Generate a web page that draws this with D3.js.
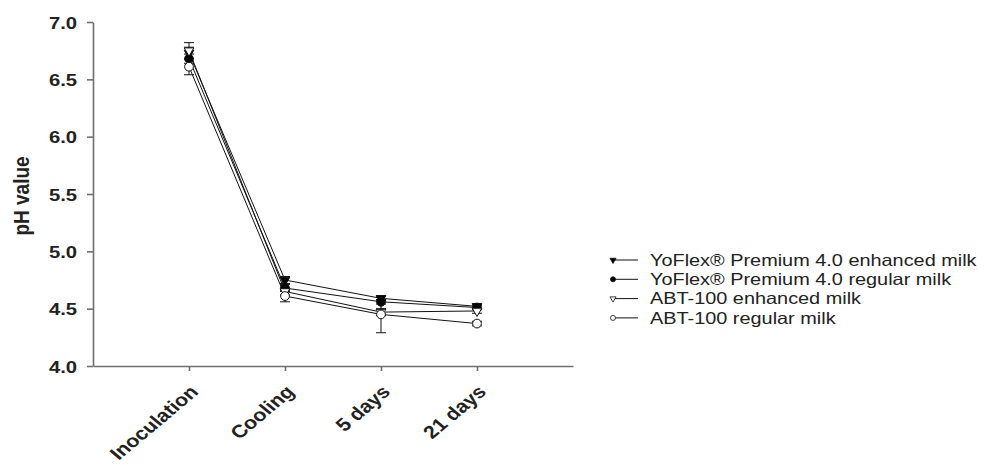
<!DOCTYPE html>
<html>
<head>
<meta charset="utf-8">
<script src="https://cdn.jsdelivr.net/npm/d3@7"></script>
<style>
  body { margin: 0; background: #fff; }
  svg { display: block; }
  text { font-family: "Liberation Sans", Arial, sans-serif; }
</style>
</head>
<body>
<svg id="chart" width="994" height="464"></svg>
<script>
// Sampling stages along the x axis
const stages = ["Inoculation", "Cooling", "5 days", "21 days"];

// Mean pH per stage for each culture/milk combination
const yoflexEnhanced = [6.73, 4.75, 4.59, 4.52];
const yoflexRegular  = [6.68, 4.68, 4.56, 4.51];
const abtEnhanced    = [6.75, 4.65, 4.47, 4.48];
const abtRegular     = [6.61, 4.61, 4.45, 4.37];

// Standard deviations (error bars)
const yoflexEnhancedSd = [0.05, 0.03, 0.02, 0.02];
const yoflexRegularSd  = [0.04, 0.03, 0.02, 0.02];
const abtEnhancedSd    = [0.07, 0.03, 0.03, 0.02];
const abtRegularSd     = [0.07, 0.05, 0.16, 0.02];

const seriesNames = [
  "YoFlex® Premium 4.0 enhanced milk",
  "YoFlex® Premium 4.0 regular milk",
  "ABT-100 enhanced milk",
  "ABT-100 regular milk"
];

const yTicks = [4.0, 4.5, 5.0, 5.5, 6.0, 6.5, 7.0];

const series = [
  { name: seriesNames[0], values: yoflexEnhanced, sd: yoflexEnhancedSd, shape: "tri", fill: "#000" },
  { name: seriesNames[1], values: yoflexRegular,  sd: yoflexRegularSd,  shape: "circle", fill: "#000" },
  { name: seriesNames[2], values: abtEnhanced,    sd: abtEnhancedSd,    shape: "tri", fill: "#fff" },
  { name: seriesNames[3], values: abtRegular,     sd: abtRegularSd,     shape: "circle", fill: "#fff" }
];

const svg = d3.select("#chart");
const plotLeft = 93, plotRight = 573, plotTop = 22, plotBottom = 366;
// Text in this figure is set slightly wide
const widen = 1.19;

// Stages sit at positions 1..4 on a 0..5 linear axis
const x = d3.scaleLinear().domain([0, 5]).range([plotLeft, plotRight]);
const y = d3.scaleLinear().domain([4.0, 7.0]).range([plotBottom, plotTop]);

const axisColor = "#707070";
const textColor = "#222";

// Y axis
const yAxis = svg.append("g")
  .attr("transform", `translate(${plotLeft},0)`)
  .call(d3.axisLeft(y).tickValues(yTicks).tickFormat(d3.format(".1f")).tickSize(6).tickSizeOuter(0));
yAxis.select(".domain").attr("stroke", axisColor).attr("stroke-width", 1.6);
yAxis.selectAll(".tick line").attr("stroke", axisColor).attr("stroke-width", 1.6);
yAxis.selectAll(".tick text")
  .attr("font-size", 17).attr("font-weight", "bold").attr("fill", textColor)
  .attr("x", 0).attr("dy", "0.36em")
  .attr("transform", `translate(-16,0) scale(${widen},1)`);

// X axis
const xAxis = svg.append("g")
  .attr("transform", `translate(0,${plotBottom})`)
  .call(d3.axisBottom(x).tickValues([1, 2, 3, 4]).tickFormat(d => stages[d - 1]).tickSize(5).tickSizeOuter(0));
xAxis.select(".domain").attr("stroke", axisColor).attr("stroke-width", 1.6);
xAxis.selectAll(".tick line").attr("stroke", axisColor).attr("stroke-width", 1.6);
xAxis.selectAll(".tick text")
  .attr("font-size", 18).attr("font-weight", "bold").attr("fill", textColor)
  .attr("text-anchor", "end")
  .attr("x", 0).attr("y", 0).attr("dy", 0)
  .attr("transform", `translate(10,27) scale(${widen},1) rotate(-45)`);

// Y axis title
svg.append("text")
  .attr("transform", `translate(29,196) scale(${widen},1) rotate(-90)`)
  .attr("text-anchor", "middle")
  .attr("font-size", 19).attr("font-weight", "bold").attr("fill", textColor)
  .text("pH value");

const triPath = d3.symbol().type(d3.symbolTriangle).size(40)();
const circPath = d3.symbol().type(d3.symbolCircle).size(60)();

const line = d3.line().x((d, i) => x(i + 1)).y(d => y(d));

// Connecting lines
series.forEach(s => {
  svg.append("path")
    .attr("d", line(s.values))
    .attr("fill", "none").attr("stroke", "#111").attr("stroke-width", 1);
});

// Error bars
series.forEach(s => {
  const g = svg.append("g").attr("stroke", "#111").attr("stroke-width", 1);
  s.values.forEach((v, i) => {
    const cx = x(i + 1);
    const y1 = y(v + s.sd[i]), y0 = y(v - s.sd[i]);
    g.append("line").attr("x1", cx).attr("x2", cx).attr("y1", y1).attr("y2", y0);
    g.append("line").attr("x1", cx - 5).attr("x2", cx + 5).attr("y1", y1).attr("y2", y1);
    g.append("line").attr("x1", cx - 5).attr("x2", cx + 5).attr("y1", y0).attr("y2", y0);
  });
});

// Markers
series.forEach(s => {
  s.values.forEach((v, i) => {
    svg.append("path")
      .attr("d", s.shape === "tri" ? triPath : circPath)
      .attr("transform", `translate(${x(i + 1)},${y(v)})` + (s.shape === "tri" ? " rotate(180)" : ""))
      .attr("fill", s.fill).attr("stroke", "#111").attr("stroke-width", 1);
  });
});

// Legend
const legend = svg.append("g").attr("transform", "translate(612,260)");
series.forEach((s, i) => {
  const g = legend.append("g").attr("transform", `translate(0,${i * 19.3})`);
  g.append("line").attr("x1", 0).attr("x2", 26).attr("y1", 0).attr("y2", 0)
    .attr("stroke", "#111").attr("stroke-width", 1);
  g.append("path")
    .attr("d", s.shape === "tri" ? d3.symbol().type(d3.symbolTriangle).size(16)() : d3.symbol().type(d3.symbolCircle).size(20)())
    .attr("transform", "translate(1,0)" + (s.shape === "tri" ? " rotate(180)" : ""))
    .attr("fill", s.fill).attr("stroke", "#111").attr("stroke-width", 0.8);
  g.append("text")
    .attr("x", 0).attr("dy", "0.35em")
    .attr("transform", `translate(38,0) scale(1.22,1)`)
    .attr("font-size", 16.3).attr("fill", textColor)
    .text(s.name);
});
</script>
</body>
</html>
